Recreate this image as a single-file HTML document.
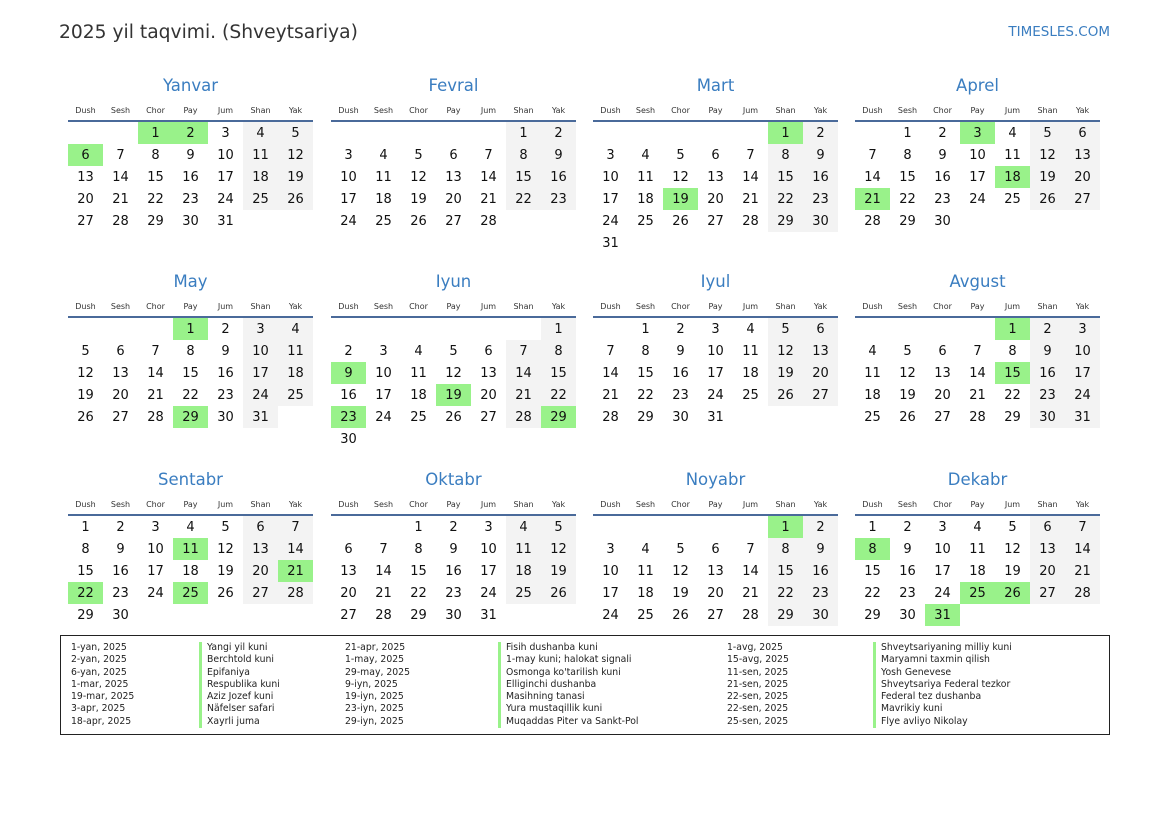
<!DOCTYPE html><html><head><meta charset="utf-8"><style>
body{margin:0;width:1169px;height:827px;background:#fff;font-family:"DejaVu Sans","Liberation Sans",sans-serif;color:#111;position:relative;overflow:hidden}
.t{position:absolute;left:59px;top:22px;font-size:18.7px;color:#333}
.s{position:absolute;right:59px;top:24px;font-size:13.5px;color:#3a7dc0}
.m{position:absolute;width:245px}
.m h2{margin:0;height:22px;line-height:22px;font-size:16.5px;font-weight:normal;color:#3a7dc0;text-align:center}
.hd{display:grid;grid-template-columns:repeat(7,35px);margin-top:9px;font-size:8px;color:#333;text-align:center;height:14px;border-bottom:2px solid #4a6a9a}
.g{display:grid;grid-template-columns:repeat(7,35px);grid-auto-rows:22px;margin-top:0}
.g b,.g i{font-weight:normal;font-style:normal;font-size:13px;text-align:center;line-height:23px}
.g b:nth-child(7n+6),.g b:nth-child(7n){background:#f3f3f3}
.g b.h{background:#99f28a!important}
.L{position:absolute;left:60px;top:635px;width:1048px;height:98px;border:1px solid #222}
.c{position:absolute;top:6px;font-size:9.3px;line-height:12.3px;color:#222;white-space:pre}
.n{border-left:3px solid #99f28a;padding-left:5px}
</style></head><body>
<div class="t">2025 yil taqvimi. (Shveytsariya)</div><div class="s">TIMESLES.COM</div>

<div class="m" style="left:68px;top:75px"><h2>Yanvar</h2><div class="hd"><span>Dush</span><span>Sesh</span><span>Chor</span><span>Pay</span><span>Jum</span><span>Shan</span><span>Yak</span></div><div class="g"><i></i><i></i><b class=h>1</b><b class=h>2</b><b>3</b><b>4</b><b>5</b><b class=h>6</b><b>7</b><b>8</b><b>9</b><b>10</b><b>11</b><b>12</b><b>13</b><b>14</b><b>15</b><b>16</b><b>17</b><b>18</b><b>19</b><b>20</b><b>21</b><b>22</b><b>23</b><b>24</b><b>25</b><b>26</b><b>27</b><b>28</b><b>29</b><b>30</b><b>31</b></div></div>

<div class="m" style="left:331px;top:75px"><h2>Fevral</h2><div class="hd"><span>Dush</span><span>Sesh</span><span>Chor</span><span>Pay</span><span>Jum</span><span>Shan</span><span>Yak</span></div><div class="g"><i></i><i></i><i></i><i></i><i></i><b>1</b><b>2</b><b>3</b><b>4</b><b>5</b><b>6</b><b>7</b><b>8</b><b>9</b><b>10</b><b>11</b><b>12</b><b>13</b><b>14</b><b>15</b><b>16</b><b>17</b><b>18</b><b>19</b><b>20</b><b>21</b><b>22</b><b>23</b><b>24</b><b>25</b><b>26</b><b>27</b><b>28</b></div></div>

<div class="m" style="left:593px;top:75px"><h2>Mart</h2><div class="hd"><span>Dush</span><span>Sesh</span><span>Chor</span><span>Pay</span><span>Jum</span><span>Shan</span><span>Yak</span></div><div class="g"><i></i><i></i><i></i><i></i><i></i><b class=h>1</b><b>2</b><b>3</b><b>4</b><b>5</b><b>6</b><b>7</b><b>8</b><b>9</b><b>10</b><b>11</b><b>12</b><b>13</b><b>14</b><b>15</b><b>16</b><b>17</b><b>18</b><b class=h>19</b><b>20</b><b>21</b><b>22</b><b>23</b><b>24</b><b>25</b><b>26</b><b>27</b><b>28</b><b>29</b><b>30</b><b>31</b></div></div>

<div class="m" style="left:855px;top:75px"><h2>Aprel</h2><div class="hd"><span>Dush</span><span>Sesh</span><span>Chor</span><span>Pay</span><span>Jum</span><span>Shan</span><span>Yak</span></div><div class="g"><i></i><b>1</b><b>2</b><b class=h>3</b><b>4</b><b>5</b><b>6</b><b>7</b><b>8</b><b>9</b><b>10</b><b>11</b><b>12</b><b>13</b><b>14</b><b>15</b><b>16</b><b>17</b><b class=h>18</b><b>19</b><b>20</b><b class=h>21</b><b>22</b><b>23</b><b>24</b><b>25</b><b>26</b><b>27</b><b>28</b><b>29</b><b>30</b></div></div>

<div class="m" style="left:68px;top:271px"><h2>May</h2><div class="hd"><span>Dush</span><span>Sesh</span><span>Chor</span><span>Pay</span><span>Jum</span><span>Shan</span><span>Yak</span></div><div class="g"><i></i><i></i><i></i><b class=h>1</b><b>2</b><b>3</b><b>4</b><b>5</b><b>6</b><b>7</b><b>8</b><b>9</b><b>10</b><b>11</b><b>12</b><b>13</b><b>14</b><b>15</b><b>16</b><b>17</b><b>18</b><b>19</b><b>20</b><b>21</b><b>22</b><b>23</b><b>24</b><b>25</b><b>26</b><b>27</b><b>28</b><b class=h>29</b><b>30</b><b>31</b></div></div>

<div class="m" style="left:331px;top:271px"><h2>Iyun</h2><div class="hd"><span>Dush</span><span>Sesh</span><span>Chor</span><span>Pay</span><span>Jum</span><span>Shan</span><span>Yak</span></div><div class="g"><i></i><i></i><i></i><i></i><i></i><i></i><b>1</b><b>2</b><b>3</b><b>4</b><b>5</b><b>6</b><b>7</b><b>8</b><b class=h>9</b><b>10</b><b>11</b><b>12</b><b>13</b><b>14</b><b>15</b><b>16</b><b>17</b><b>18</b><b class=h>19</b><b>20</b><b>21</b><b>22</b><b class=h>23</b><b>24</b><b>25</b><b>26</b><b>27</b><b>28</b><b class=h>29</b><b>30</b></div></div>

<div class="m" style="left:593px;top:271px"><h2>Iyul</h2><div class="hd"><span>Dush</span><span>Sesh</span><span>Chor</span><span>Pay</span><span>Jum</span><span>Shan</span><span>Yak</span></div><div class="g"><i></i><b>1</b><b>2</b><b>3</b><b>4</b><b>5</b><b>6</b><b>7</b><b>8</b><b>9</b><b>10</b><b>11</b><b>12</b><b>13</b><b>14</b><b>15</b><b>16</b><b>17</b><b>18</b><b>19</b><b>20</b><b>21</b><b>22</b><b>23</b><b>24</b><b>25</b><b>26</b><b>27</b><b>28</b><b>29</b><b>30</b><b>31</b></div></div>

<div class="m" style="left:855px;top:271px"><h2>Avgust</h2><div class="hd"><span>Dush</span><span>Sesh</span><span>Chor</span><span>Pay</span><span>Jum</span><span>Shan</span><span>Yak</span></div><div class="g"><i></i><i></i><i></i><i></i><b class=h>1</b><b>2</b><b>3</b><b>4</b><b>5</b><b>6</b><b>7</b><b>8</b><b>9</b><b>10</b><b>11</b><b>12</b><b>13</b><b>14</b><b class=h>15</b><b>16</b><b>17</b><b>18</b><b>19</b><b>20</b><b>21</b><b>22</b><b>23</b><b>24</b><b>25</b><b>26</b><b>27</b><b>28</b><b>29</b><b>30</b><b>31</b></div></div>

<div class="m" style="left:68px;top:469px"><h2>Sentabr</h2><div class="hd"><span>Dush</span><span>Sesh</span><span>Chor</span><span>Pay</span><span>Jum</span><span>Shan</span><span>Yak</span></div><div class="g"><b>1</b><b>2</b><b>3</b><b>4</b><b>5</b><b>6</b><b>7</b><b>8</b><b>9</b><b>10</b><b class=h>11</b><b>12</b><b>13</b><b>14</b><b>15</b><b>16</b><b>17</b><b>18</b><b>19</b><b>20</b><b class=h>21</b><b class=h>22</b><b>23</b><b>24</b><b class=h>25</b><b>26</b><b>27</b><b>28</b><b>29</b><b>30</b></div></div>

<div class="m" style="left:331px;top:469px"><h2>Oktabr</h2><div class="hd"><span>Dush</span><span>Sesh</span><span>Chor</span><span>Pay</span><span>Jum</span><span>Shan</span><span>Yak</span></div><div class="g"><i></i><i></i><b>1</b><b>2</b><b>3</b><b>4</b><b>5</b><b>6</b><b>7</b><b>8</b><b>9</b><b>10</b><b>11</b><b>12</b><b>13</b><b>14</b><b>15</b><b>16</b><b>17</b><b>18</b><b>19</b><b>20</b><b>21</b><b>22</b><b>23</b><b>24</b><b>25</b><b>26</b><b>27</b><b>28</b><b>29</b><b>30</b><b>31</b></div></div>

<div class="m" style="left:593px;top:469px"><h2>Noyabr</h2><div class="hd"><span>Dush</span><span>Sesh</span><span>Chor</span><span>Pay</span><span>Jum</span><span>Shan</span><span>Yak</span></div><div class="g"><i></i><i></i><i></i><i></i><i></i><b class=h>1</b><b>2</b><b>3</b><b>4</b><b>5</b><b>6</b><b>7</b><b>8</b><b>9</b><b>10</b><b>11</b><b>12</b><b>13</b><b>14</b><b>15</b><b>16</b><b>17</b><b>18</b><b>19</b><b>20</b><b>21</b><b>22</b><b>23</b><b>24</b><b>25</b><b>26</b><b>27</b><b>28</b><b>29</b><b>30</b></div></div>

<div class="m" style="left:855px;top:469px"><h2>Dekabr</h2><div class="hd"><span>Dush</span><span>Sesh</span><span>Chor</span><span>Pay</span><span>Jum</span><span>Shan</span><span>Yak</span></div><div class="g"><b>1</b><b>2</b><b>3</b><b>4</b><b>5</b><b>6</b><b>7</b><b class=h>8</b><b>9</b><b>10</b><b>11</b><b>12</b><b>13</b><b>14</b><b>15</b><b>16</b><b>17</b><b>18</b><b>19</b><b>20</b><b>21</b><b>22</b><b>23</b><b>24</b><b class=h>25</b><b class=h>26</b><b>27</b><b>28</b><b>29</b><b>30</b><b class=h>31</b></div></div>

<div class="L">
<div class="c" style="left:10px">1-yan, 2025
2-yan, 2025
6-yan, 2025
1-mar, 2025
19-mar, 2025
3-apr, 2025
18-apr, 2025</div>
<div class="c n" style="left:138px">Yangi yil kuni
Berchtold kuni
Epifaniya
Respublika kuni
Aziz Jozef kuni
Näfelser safari
Xayrli juma</div>
<div class="c" style="left:284px">21-apr, 2025
1-may, 2025
29-may, 2025
9-iyn, 2025
19-iyn, 2025
23-iyn, 2025
29-iyn, 2025</div>
<div class="c n" style="left:437px">Fisih dushanba kuni
1-may kuni; halokat signali
Osmonga ko'tarilish kuni
Elliginchi dushanba
Masihning tanasi
Yura mustaqillik kuni
Muqaddas Piter va Sankt-Pol</div>
<div class="c" style="left:666px">1-avg, 2025
15-avg, 2025
11-sen, 2025
21-sen, 2025
22-sen, 2025
22-sen, 2025
25-sen, 2025</div>
<div class="c n" style="left:812px">Shveytsariyaning milliy kuni
Maryamni taxmin qilish
Yosh Genevese
Shveytsariya Federal tezkor
Federal tez dushanba
Mavrikiy kuni
Flye avliyo Nikolay</div>
</div>
</body></html>
